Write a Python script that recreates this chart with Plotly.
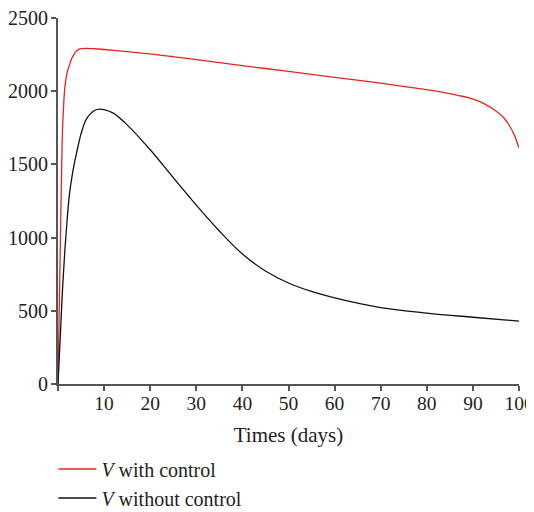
import plotly.graph_objects as go

# Data
x_with = [0, 0.25, 0.5, 0.75, 1, 1.5, 2, 2.5, 3, 4, 5, 6, 8, 10, 15, 20, 30, 40, 50, 60, 70, 78, 83, 87, 89, 91, 93, 95, 96.5, 97.7, 99, 100]
v_with = [0, 470, 950, 1400, 1750, 2030, 2130, 2180, 2225, 2275, 2290, 2293, 2290, 2285, 2270, 2255, 2215, 2175, 2135, 2095, 2055, 2019, 1995, 1970, 1956, 1935, 1905, 1865, 1825, 1776, 1700, 1612]

x_without = [0, 0.5, 1, 1.5, 2, 2.5, 3, 3.5, 4, 4.5, 5, 6, 7, 8, 9, 10, 12, 15, 20, 25, 30, 35, 40, 45, 50, 55, 60, 70, 80, 90, 100]
v_without = [0, 330, 660, 920, 1130, 1300, 1410, 1500, 1575, 1645, 1710, 1800, 1845, 1870, 1878, 1874, 1850, 1770, 1600, 1410, 1222, 1045, 888, 772, 690, 632, 588, 522, 484, 456, 430]

x_tickvals = [0, 10, 20, 30, 40, 50, 60, 70, 80, 90, 100]
x_ticktext = ["", "10", "20", "30", "40", "50", "60", "70", "80", "90", "100"]
y_tickvals = [0, 500, 1000, 1500, 2000, 2500]

font_family = "Liberation Serif"

fig = go.Figure()
fig.add_trace(go.Scatter(x=x_with, y=v_with, mode="lines",
                         line=dict(color="#e8231e", width=1.3, shape="spline", smoothing=0.8),
                         name="<i>V</i> with control"))
fig.add_trace(go.Scatter(x=x_without, y=v_without, mode="lines",
                         line=dict(color="#111111", width=1.3, shape="spline", smoothing=1.0),
                         name="<i>V</i> without control"))

axis_color = "#555555"
# page body adds an 8px offset, so the figure is 8px smaller than the window
fig.update_layout(
    width=526, height=504,
    margin=dict(l=50, r=15, t=10, b=128),
    paper_bgcolor="white", plot_bgcolor="white",
    font=dict(family=font_family, size=20, color="#222222"),
    showlegend=True,
    legend=dict(xref="paper", yref="container", x=-0.01, y=0.124,
                xanchor="left", yanchor="top", bgcolor="rgba(0,0,0,0)",
                font=dict(size=20), tracegroupgap=0, itemwidth=38),
    xaxis=dict(range=[0, 100], tickvals=x_tickvals, ticktext=x_ticktext, automargin=False,
               ticklabeloverflow="allow", ticklabelstandoff=-4,
               showline=True, linecolor=axis_color, linewidth=2, ticks="outside", ticklen=5,
               tickcolor=axis_color, tickwidth=2, showgrid=False, zeroline=False,
               tickfont=dict(size=19.5),
               title=dict(text="Times (days)", standoff=14, font=dict(size=21))),
    yaxis=dict(range=[0, 2500], tickvals=y_tickvals, automargin=False,
               ticklabeloverflow="allow", ticklabelstandoff=-1,
               showline=True, linecolor=axis_color, linewidth=2, ticks="outside", ticklen=5,
               tickcolor=axis_color, tickwidth=2, showgrid=False, zeroline=False,
               tickfont=dict(size=20)),
)

fig.write_html("out.html")
